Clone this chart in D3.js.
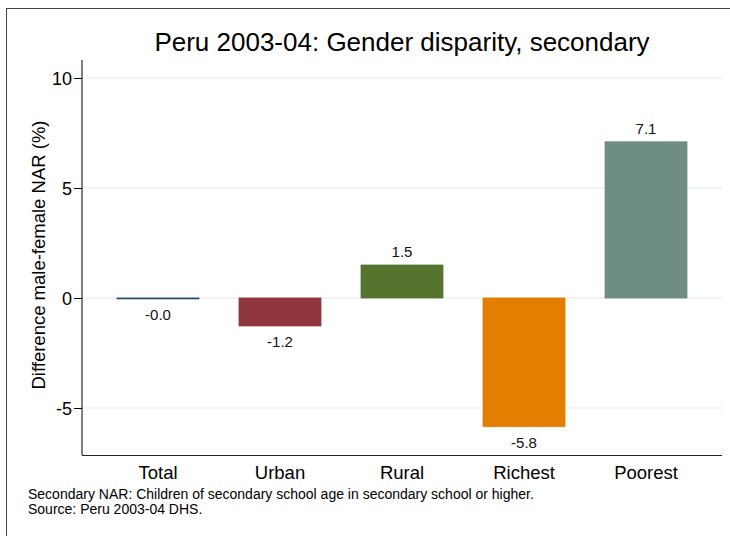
<!DOCTYPE html>
<html><head><meta charset="utf-8">
<script src="https://cdn.jsdelivr.net/npm/d3@7"></script>
<style>body{margin:0;background:#fff;} svg{display:block;font-family:"Liberation Sans",Arial,sans-serif;}</style>
</head><body>
<svg id="chart" width="730" height="536"></svg>
<script>
const categories = ["Total", "Urban", "Rural", "Richest", "Poorest"];
const values = [-0.04, -1.27, 1.5, -5.85, 7.1];
const valueLabels = ["-0.0", "-1.2", "1.5", "-5.8", "7.1"];
const colors = ["#1a476f", "#90353b", "#55752f", "#e37e00", "#6e8e84"];
const yTicks = [-5, 0, 5, 10];
const title = "Peru 2003-04: Gender disparity, secondary";
const yTitle = "Difference male-female NAR (%)";
const notes = ["Secondary NAR: Children of secondary school age in secondary school or higher.", "Source: Peru 2003-04 DHS."];

(function () {
const svg = d3.select("#chart");
// outer frame
svg.append("rect").attr("x", 6.5).attr("y", 8.5).attr("width", 740).attr("height", 540)
  .attr("fill", "none").attr("stroke", "#444").attr("stroke-width", 1);

const pLeft = 82, pRight = 722, pTop = 60, pBottom = 455;
const y = d3.scaleLinear().domain([-7.136, 10.818]).range([pBottom, pTop]);
const x = d3.scaleBand().domain(categories).range([97, 707]).paddingInner(0.328).paddingOuter(0.164);

// gridlines
svg.append("g").selectAll("line").data(yTicks).join("line")
  .attr("x1", pLeft).attr("x2", pRight)
  .attr("y1", d => y(d)).attr("y2", d => y(d))
  .attr("stroke", "#eaf2f3").attr("stroke-width", 1.5);

// bars
svg.append("g").selectAll("rect").data(values).join("rect")
  .attr("x", (d, i) => x(categories[i]))
  .attr("width", x.bandwidth())
  .attr("y", d => Math.min(y(d), y(0)))
  .attr("height", d => Math.abs(y(d) - y(0)))
  .attr("fill", (d, i) => colors[i])
  .attr("stroke", (d, i) => colors[i]).attr("stroke-width", 0.8);

// value labels
svg.append("g").selectAll("text").data(values).join("text")
  .attr("x", (d, i) => x(categories[i]) + x.bandwidth() / 2)
  .attr("y", d => d >= 0 ? y(d) - 8 : y(d) + 21)
  .attr("text-anchor", "middle").attr("font-size", 15).attr("fill", "#111")
  .text((d, i) => valueLabels[i]);

// y axis
const yAxis = d3.axisLeft(y).tickValues(yTicks).tickSize(8).tickPadding(2).tickFormat(d => String(d));
const gy = svg.append("g").attr("transform", `translate(${pLeft},0)`).call(yAxis);
gy.select(".domain").remove();
gy.append("line").attr("x1", 0).attr("x2", 0).attr("y1", pTop).attr("y2", pBottom).attr("stroke", "#000");
gy.selectAll(".tick line").attr("stroke", "#000");
gy.selectAll(".tick text").attr("font-size", 18).attr("fill", "#000").attr("font-family", "Liberation Sans, Arial, sans-serif").attr("dy", "0.36em");

// x axis
const xAxis = d3.axisBottom(x).tickSize(0).tickPadding(11);
const gx = svg.append("g").attr("transform", `translate(0,${pBottom})`).call(xAxis);
gx.select(".domain").remove();
gx.append("line").attr("x1", pLeft).attr("x2", pRight).attr("y1", 0.5).attr("y2", 0.5).attr("stroke", "#222");
gx.selectAll(".tick text").attr("font-size", 18.5).attr("fill", "#000").attr("font-family", "Liberation Sans, Arial, sans-serif");

// title
svg.append("text").attr("x", 402).attr("y", 51).attr("text-anchor", "middle")
  .attr("font-size", 26).attr("fill", "#000").text(title);

// y title
svg.append("text").attr("transform", "translate(45,255) rotate(-90)").attr("text-anchor", "middle")
  .attr("font-size", 18.5).attr("fill", "#000").text(yTitle);

// notes
svg.append("g").selectAll("text").data(notes).join("text")
  .attr("x", 28).attr("y", (d, i) => 499 + i * 15)
  .attr("font-size", 14).attr("fill", "#000").text(d => d);
})();
</script>
</body></html>
